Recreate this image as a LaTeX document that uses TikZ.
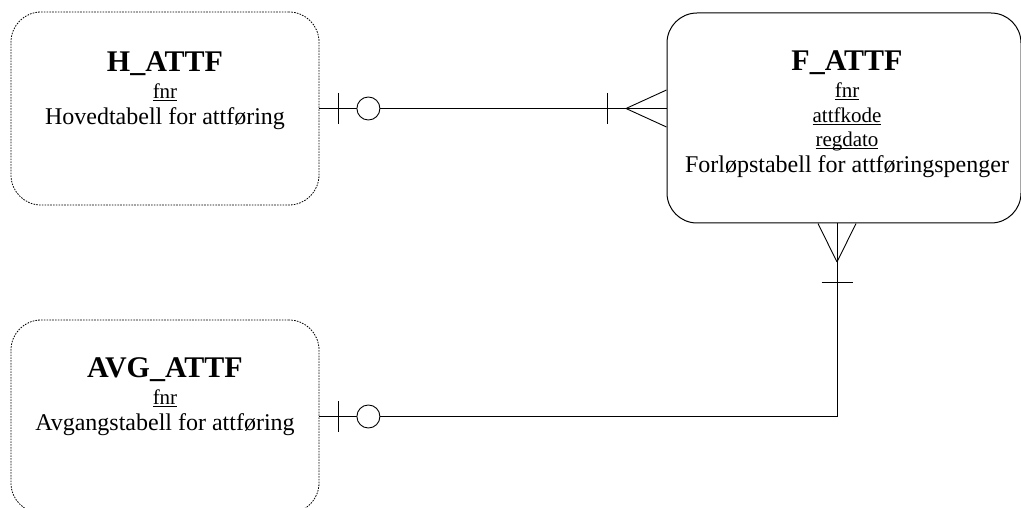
\documentclass[tikz,border=0pt]{standalone}
\usepackage{fontspec}
\setmainfont{Liberation Serif}
\usetikzlibrary{positioning,calc}

\newcommand{\enttitle}[1]{{\fontsize{30}{30}\selectfont\bfseries #1}}
\newcommand{\entkey}[1]{{\fontsize{21}{21}\selectfont\setbox0=\hbox{#1}\rlap{\rule[-2.6pt]{\wd0}{0.9pt}}\box0}}

\begin{document}
\begin{tikzpicture}[
    x=1pt, y=-1pt,
    entity/.style={rectangle, draw, rounded corners=30pt, minimum width=308pt, minimum height=193pt, inner sep=0pt},
    weak/.style={entity, dash pattern=on 1.6pt off 1.2pt, line width=0.8pt},
    strong/.style={entity, line width=1pt, minimum width=354pt, minimum height=210pt},
    txt/.style={align=center, anchor=north, inner sep=0pt, font=\fontsize{24}{24.5}\selectfont},
    rel/.style={line width=0.9pt},
    ring/.style={circle, draw, fill=white, line width=0.9pt, minimum size=23pt, inner sep=0pt}
]
    \useasboundingbox (0,0) rectangle (1021,508);

    % Entities
    \node[weak] (h) at (165,108.5) {};
    \node[strong] (f) at (844,118) {};
    \node[weak] (avg) at (165,416.5) {};

    \node[txt] (h-txt) at (165,51) {\enttitle{H\_ATTF}\\[3pt] \entkey{fnr}\\[1pt] Hovedtabell for attføring};
    \node[txt] (f-txt) at (847,50) {\enttitle{F\_ATTF}\\[3pt] \entkey{fnr}\\ \entkey{attfkode}\\ \entkey{regdato}\\[1.5pt] Forløpstabell for attføringspenger};
    \node[txt] (avg-txt) at (165,357) {\enttitle{AVG\_ATTF}\\[3pt] \entkey{fnr}\\[1pt] Avgangstabell for attføring};

    % Relationship H_ATTF -- F_ATTF
    \coordinate (hf-crow) at (626,108.5);
    \draw[rel] (h.east) -- (h.east -| f.west);
    \draw[rel] ($(h.east)+(19,-15.5)$) -- ($(h.east)+(19,15.5)$);
    \node[ring] (hf-ring) at ($(h.east)+(49,0)$) {};
    \draw[rel] ($(hf-crow)+(-19,-15.5)$) -- ($(hf-crow)+(-19,15.5)$);
    \draw[rel] (hf-crow) -- ($(f.west |- hf-crow)+(0,-18.5)$);
    \draw[rel] (hf-crow) -- ($(f.west |- hf-crow)+(0,18.5)$);

    % Relationship F_ATTF -- AVG_ATTF
    \coordinate (fa-bend) at (837,416.5);
    \coordinate (fa-crow) at (837,262);
    \draw[rel] (avg.east) -- (fa-bend) -- (fa-bend |- f.south);
    \draw[rel] (fa-crow) -- ($(fa-bend |- f.south)+(-19,0)$);
    \draw[rel] (fa-crow) -- ($(fa-bend |- f.south)+(19,0)$);
    \draw[rel] ($(fa-crow)+(-15.5,20)$) -- ($(fa-crow)+(15.5,20)$);
    \draw[rel] ($(avg.east)+(19,-15.5)$) -- ($(avg.east)+(19,15.5)$);
    \node[ring] (fa-ring) at ($(avg.east)+(49,0)$) {};
\end{tikzpicture}
\end{document}
